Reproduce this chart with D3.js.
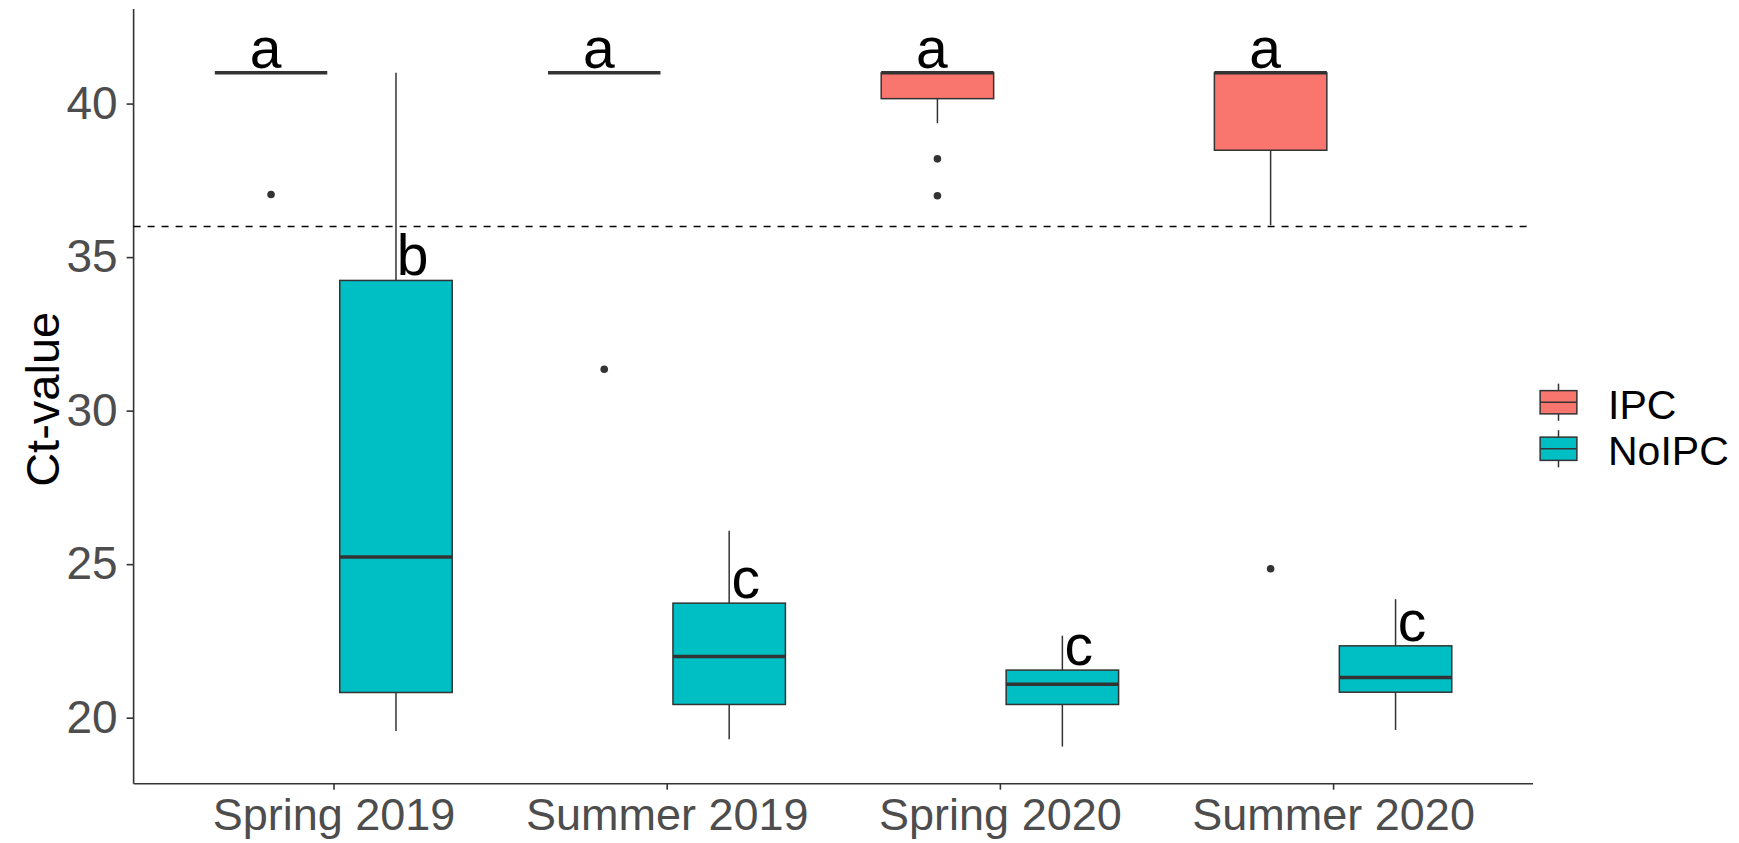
<!DOCTYPE html>
<html>
<head>
<meta charset="utf-8">
<script src="https://cdn.jsdelivr.net/npm/d3@7"></script>
<style>
  body { margin: 0; background: #fff; }
  text { font-family: "Liberation Sans", Arial, sans-serif; }
</style>
</head>
<body>
<div id="chart"></div>
<script>
// chart data
let seasons = ["Spring 2019", "Summer 2019", "Spring 2020", "Summer 2020"];
let groups = ["IPC", "NoIPC"];
let yTicks = [20, 25, 30, 35, 40];
let cutoff = 36;

// boxplot stats per season
let ipcLower  = [41, 41, 39.36, 36.04];
let ipcQ1     = [41, 41, 40.16, 38.48];
let ipcMedian = [41, 41, 41, 41];
let ipcQ3     = [41, 41, 41, 41];
let ipcUpper  = [41, 41, 41, 41];
let ipcOutliers = [[37.04], [31.35], [38.2, 37.0], [24.85]];
let ipcLetters = ["a", "a", "a", "a"];

let noLower  = [19.57, 19.30, 19.06, 19.60];
let noQ1     = [20.82, 20.43, 20.43, 20.83];
let noMedian = [25.23, 21.99, 21.09, 21.31];
let noQ3     = [34.24, 23.73, 21.55, 22.34];
let noUpper  = [41.0, 26.09, 22.67, 23.86];
let noOutliers = [[], [], [], []];
let noLetters = ["b", "c", "c", "c"];

let colors = { "IPC": "#F8766D", "NoIPC": "#00BFC4" };

// dimensions
const WIDTH = 1739, HEIGHT = 843;
let panel = { left: 133.6, right: 1533, top: 9, bottom: 783.7 };

let svg = d3.select("#chart")
    .append("svg")
    .attr("width", WIDTH)
    .attr("height", HEIGHT);

// build rows for each box
let boxes = [];
seasons.forEach(function(s, i) {
    boxes.push({ season: s, group: "IPC", lower: ipcLower[i], q1: ipcQ1[i], median: ipcMedian[i],
        q3: ipcQ3[i], upper: ipcUpper[i], outliers: ipcOutliers[i], letter: ipcLetters[i] });
    boxes.push({ season: s, group: "NoIPC", lower: noLower[i], q1: noQ1[i], median: noMedian[i],
        q3: noQ3[i], upper: noUpper[i], outliers: noOutliers[i], letter: noLetters[i] });
});

// scales: discrete positions 1..4 with ggplot's 0.6 expansion
let x = d3.scaleLinear()
    .domain([0.4, seasons.length + 0.6])
    .range([panel.left, panel.right]);
let pos = function(s) { return seasons.indexOf(s) + 1; };

// dodge for boxes (width 0.75, padding 0.1) and for letters (width 0.9)
let dodge = d3.scaleBand().domain(groups).range([-0.375, 0.375]);
let labelDodge = d3.scaleBand().domain(groups).range([-0.45, 0.45]);
let boxW = dodge.bandwidth() * 0.9;
let cx = function(d) { return pos(d.season) + dodge(d.group) + dodge.bandwidth() / 2; };

let y = d3.scaleLinear()
    .domain([17.85, 43.08])
    .range([panel.bottom, panel.top]);

// y axis
let yAxis = svg.append("g")
    .attr("transform", `translate(${panel.left}, 0)`)
    .call(d3.axisLeft(y).tickValues(yTicks).tickSize(7).tickPadding(9));
yAxis.select(".domain").remove();
yAxis.selectAll(".tick line").attr("stroke", "#333").attr("stroke-width", 1.6);
yAxis.selectAll(".tick text")
    .attr("fill", "#4D4D4D")
    .style("font-size", "46px")
    .style("font-family", "'Liberation Sans', Arial, sans-serif");

// x axis
let xAxis = svg.append("g")
    .attr("transform", `translate(0, ${panel.bottom})`)
    .call(d3.axisBottom(x).tickValues(seasons.map(function(s, i) { return i + 1; }))
        .tickFormat(function(d) { return seasons[d - 1]; })
        .tickSize(6).tickPadding(8));
xAxis.select(".domain").remove();
xAxis.selectAll(".tick line").attr("stroke", "#333").attr("stroke-width", 1.6);
xAxis.selectAll(".tick text")
    .attr("fill", "#4D4D4D")
    .attr("dy", "0.71em")
    .style("font-size", "45px")
    .style("font-family", "'Liberation Sans', Arial, sans-serif");

// axis lines (theme_classic)
svg.append("line")
    .attr("x1", panel.left).attr("x2", panel.left)
    .attr("y1", panel.top).attr("y2", panel.bottom)
    .attr("stroke", "#333").attr("stroke-width", 1.6);
svg.append("line")
    .attr("x1", panel.left).attr("x2", panel.right)
    .attr("y1", panel.bottom).attr("y2", panel.bottom)
    .attr("stroke", "#333").attr("stroke-width", 1.6);

// y axis title
svg.append("text")
    .attr("transform", `translate(59, ${(panel.top + panel.bottom) / 2 + 3}) rotate(-90)`)
    .style("text-anchor", "middle")
    .style("font-size", "47px")
    .attr("fill", "#000")
    .text("Ct-value");

// whiskers
let g = svg.append("g");
g.selectAll(".whisker-top").data(boxes).enter().append("line")
    .attr("x1", function(d) { return x(cx(d)); })
    .attr("x2", function(d) { return x(cx(d)); })
    .attr("y1", function(d) { return y(d.q3); })
    .attr("y2", function(d) { return y(d.upper); })
    .attr("stroke", "#333").attr("stroke-width", 1.5);
g.selectAll(".whisker-bottom").data(boxes).enter().append("line")
    .attr("x1", function(d) { return x(cx(d)); })
    .attr("x2", function(d) { return x(cx(d)); })
    .attr("y1", function(d) { return y(d.q1); })
    .attr("y2", function(d) { return y(d.lower); })
    .attr("stroke", "#333").attr("stroke-width", 1.5);

// boxes
g.selectAll("rect").data(boxes).enter().append("rect")
    .attr("x", function(d) { return x(cx(d) - boxW / 2); })
    .attr("width", function(d) { return x(cx(d) + boxW / 2) - x(cx(d) - boxW / 2); })
    .attr("y", function(d) { return y(d.q3); })
    .attr("height", function(d) { return y(d.q1) - y(d.q3); })
    .attr("fill", function(d) { return colors[d.group]; })
    .attr("stroke", "#333").attr("stroke-width", 1.5);

// medians
g.selectAll(".median").data(boxes).enter().append("line")
    .attr("x1", function(d) { return x(cx(d) - boxW / 2); })
    .attr("x2", function(d) { return x(cx(d) + boxW / 2); })
    .attr("y1", function(d) { return y(d.median); })
    .attr("y2", function(d) { return y(d.median); })
    .attr("stroke", "#333").attr("stroke-width", 3.5);

// outliers
let outs = [];
boxes.forEach(function(d) {
    d.outliers.forEach(function(v) { outs.push({ x: cx(d), v: v }); });
});
g.selectAll("circle").data(outs).enter().append("circle")
    .attr("cx", function(d) { return x(d.x); })
    .attr("cy", function(d) { return y(d.v); })
    .attr("r", 3.8)
    .attr("fill", "#333");

// cutoff line
svg.append("line")
    .attr("x1", panel.left).attr("x2", panel.right)
    .attr("y1", y(cutoff)).attr("y2", y(cutoff))
    .attr("stroke", "#000").attr("stroke-width", 1.5)
    .attr("stroke-dasharray", "7,7");

// significance letters
g.selectAll(".letter").data(boxes).enter().append("text")
    .attr("x", function(d) {
        return x(pos(d.season) + labelDodge(d.group) + labelDodge.bandwidth() / 2) + (d.group == "IPC" ? 7 : 4);
    })
    .attr("y", function(d) { return y(d.q3) - 5; })
    .style("text-anchor", "middle")
    .style("font-size", "57px")
    .attr("fill", "#000")
    .text(function(d) { return d.letter; });

// legend
let keyX = 1534, keyW = 49, keyH = 46.5, keyY0 = 379;
let legend = svg.selectAll(".legend").data(groups).enter().append("g")
    .attr("transform", function(d, i) { return `translate(${keyX}, ${keyY0 + i * keyH})`; });
legend.append("line")
    .attr("x1", keyW / 2).attr("x2", keyW / 2)
    .attr("y1", keyH * 0.1).attr("y2", keyH * 0.9)
    .attr("stroke", "#333").attr("stroke-width", 1.5);
legend.append("rect")
    .attr("x", keyW * 0.125).attr("width", keyW * 0.75)
    .attr("y", keyH * 0.25).attr("height", keyH * 0.5)
    .attr("fill", function(d) { return colors[d]; })
    .attr("stroke", "#333").attr("stroke-width", 1.5);
legend.append("line")
    .attr("x1", keyW * 0.125).attr("x2", keyW * 0.875)
    .attr("y1", keyH / 2).attr("y2", keyH / 2)
    .attr("stroke", "#333").attr("stroke-width", 1.5);
legend.append("text")
    .attr("x", 1608 - keyX)
    .attr("y", keyH / 2 + 2)
    .attr("dy", "0.35em")
    .style("font-size", "41px")
    .attr("fill", "#000")
    .text(function(d) { return d; });
</script>
</body>
</html>
